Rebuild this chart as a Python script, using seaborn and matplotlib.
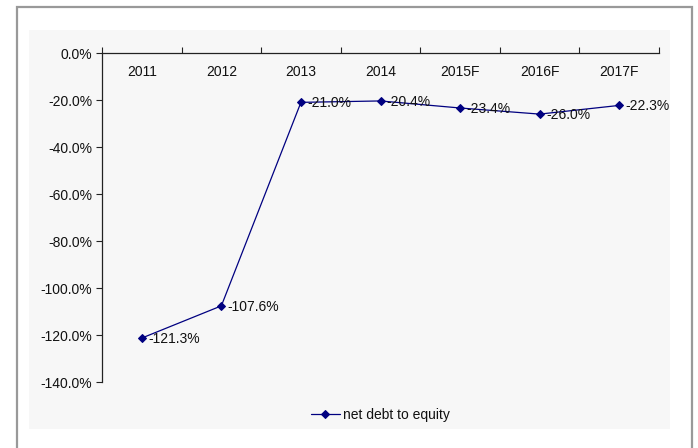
import numpy as np
import pandas as pd
import matplotlib
matplotlib.use("Agg")
import matplotlib.pyplot as plt
from matplotlib.patches import Rectangle
from matplotlib.ticker import FuncFormatter
import seaborn as sns

# Net debt to equity by year (F = forecast)
years = ["2011", "2012", "2013", "2014", "2015F", "2016F", "2017F"]
net_debt_to_equity = [-121.3, -107.6, -21.0, -20.4, -23.4, -26.0, -22.3]
series_name = "net debt to equity"

sns.set_theme(style="white")
plt.rcParams["font.family"] = ["Liberation Sans", "DejaVu Sans"]

W, H = 698, 448
fig = plt.figure(figsize=(W / 100, H / 100), dpi=100)
fig.patch.set_facecolor("white")

# outer chart border and light grey chart panel
fig.add_artist(Rectangle((16.5 / W, -0.01), (692 - 16.5) / W, 1 - 7.5 / H + 0.01,
                         transform=fig.transFigure, fill=False,
                         edgecolor="#999999", linewidth=1.6))
fig.add_artist(Rectangle((29 / W, 1 - 429 / H), (670 - 29) / W, (429 - 30) / H,
                         transform=fig.transFigure, facecolor="#f7f7f7",
                         edgecolor="none", zorder=0))

ax = fig.add_axes([102 / W, 1 - 382 / H, (659 - 102) / W, (382 - 53) / H])
ax.set_facecolor("#f7f7f7")

df = pd.DataFrame({"year": years, "value": net_debt_to_equity})
navy = "#000080"
sns.lineplot(data=df, x="year", y="value", sort=False, ax=ax, color=navy,
             linewidth=0.9, marker="D", markersize=3.8, markeredgecolor=navy,
             markerfacecolor=navy, label=series_name, legend=False)

for i, v in enumerate(net_debt_to_equity):
    ax.annotate(f"{v:.1f}%", (i, v), xytext=(4.5, -0.5), textcoords="offset points",
                ha="left", va="center", fontsize=10, color="#111111")

ax.set_xlim(-0.5, len(years) - 0.5)
ax.set_ylim(-140, 0)
ax.set_yticks(np.arange(-140, 1, 20))
ax.yaxis.set_major_formatter(FuncFormatter(lambda v, p: f"{v:.1f}%"))
ax.set_xlabel("")
ax.set_ylabel("")

# category labels sit just under the top axis line; ticks mark category boundaries
ax.set_xticks(range(len(years)))
ax.set_xticklabels(years)
ax.set_xticks(np.arange(-0.5, len(years), 1), minor=True)
ax.tick_params(axis="x", which="major", top=True, labeltop=True, bottom=False,
               labelbottom=False, length=0, pad=-19, labelsize=10, labelcolor="#111111")
ax.tick_params(axis="x", which="minor", top=True, bottom=False, length=4,
               width=0.8, direction="out", color="#222222")
ax.tick_params(axis="y", which="major", left=True, length=4, width=0.8,
               direction="out", color="#222222", labelsize=10, labelcolor="#111111", pad=3)

for side in ("right", "bottom"):
    ax.spines[side].set_visible(False)
for side in ("left", "top"):
    ax.spines[side].set_color("#222222")
    ax.spines[side].set_linewidth(0.9)

handles, labels = ax.get_legend_handles_labels()
fig.legend(handles, labels, loc="center", bbox_to_anchor=(380.5 / W, 1 - 415 / H),
           frameon=False, fontsize=10, handlelength=2.1, handletextpad=0.25,
           labelcolor="#111111")

fig.savefig("out.png", dpi=100, facecolor="white")
